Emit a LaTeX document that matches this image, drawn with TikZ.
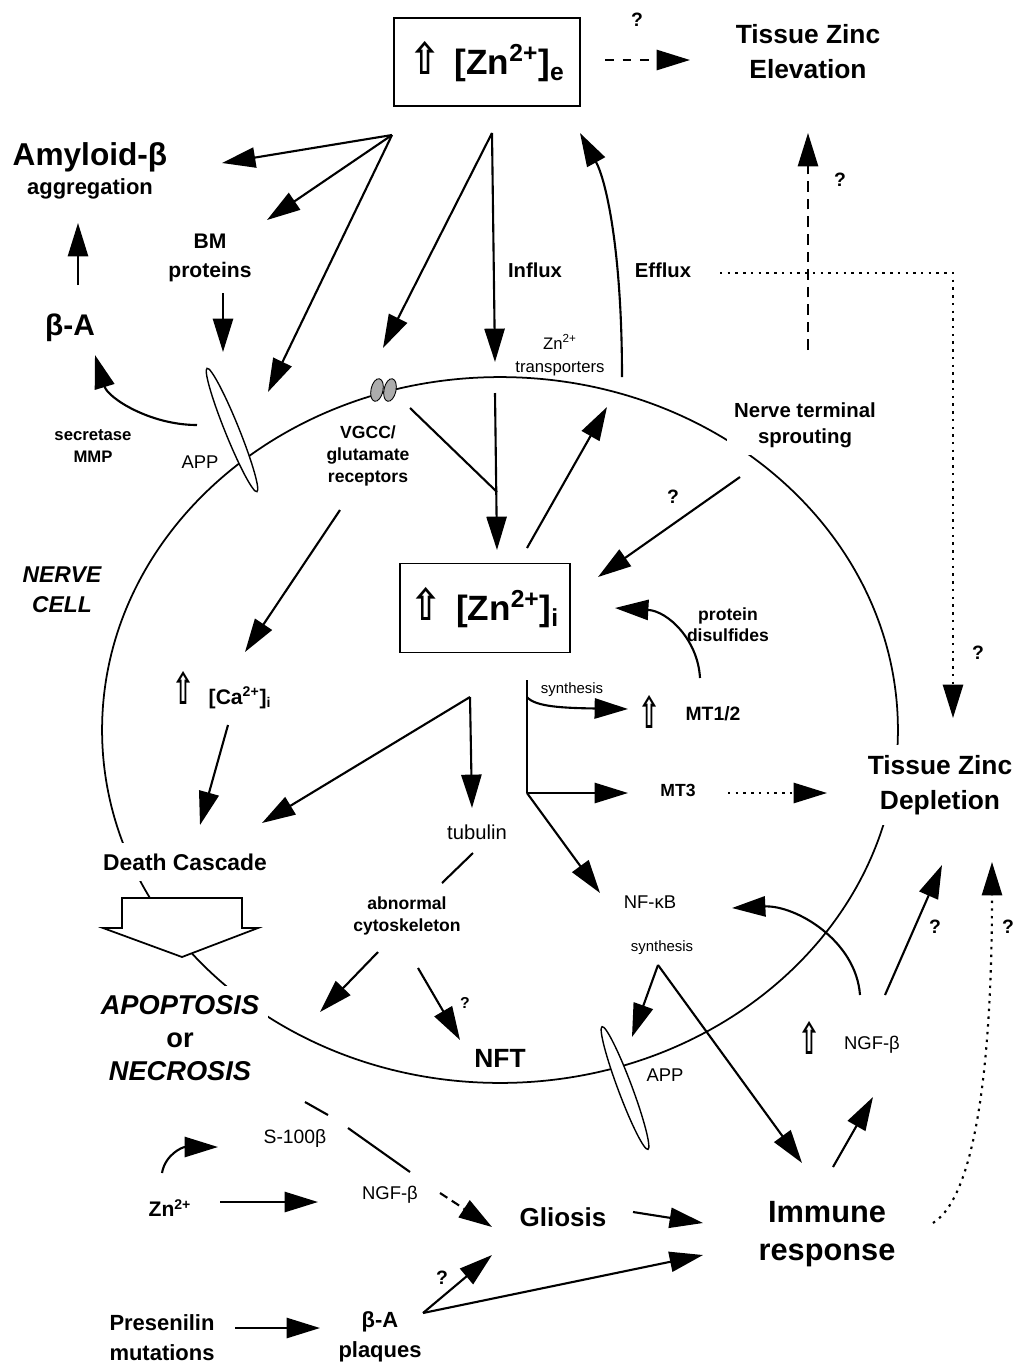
\documentclass[tikz,border=0pt]{standalone}
\usepackage{fontspec}
\usepackage{graphicx}
\setmainfont{Liberation Sans}
\newfontfamily\symfont{DejaVu Sans}
\usetikzlibrary{arrows.meta,shapes.geometric}

\newcommand{\fsz}[2]{\fontsize{#1}{#2}\selectfont}
\newcommand{\upar}[1][0.6]{\scalebox{#1}[1]{\symfont\bfseries\fsz{25}{25}⇧}}

\begin{document}
\begin{tikzpicture}[x=0.02cm,y=-0.02cm,
  every node/.style={inner sep=1pt,align=center},
  arr/.style={line width=1.2pt,-{Triangle[length=19pt,width=11.5pt]}},
  conn/.style={line width=1.2pt},
  dots/.style={dash pattern=on 1.4pt off 3pt},
  zbox/.style={draw,line width=1pt,minimum height=1.76cm,font=\fsz{20}{22}\bfseries},
  head/.style={font=\fsz{15}{20}\bfseries},
  lab/.style={font=\fsz{12}{16.5}\bfseries},
  smallbf/.style={font=\fsz{10}{12.5}\bfseries},
  txt/.style={font=\fsz{10.5}{12.5}},
  tinytxt/.style={font=\fsz{8.5}{10}},
  qm/.style={font=\fsz{11}{13}\bfseries},
  mask/.style={fill=white},
  lens/.style={draw,ellipse,fill=white,line width=0.8pt,inner sep=0pt,minimum height=0.28cm},
  chan/.style={draw,ellipse,fill=gray!65,line width=0.5pt,inner sep=0pt,minimum width=0.24cm,minimum height=0.46cm}]

\useasboundingbox (0,0) rectangle (1017,1363);

% cell membrane
\draw[line width=1pt] (500,730) ellipse [x radius=7.96cm,y radius=7.06cm];
\node[lens,minimum width=2.66cm,rotate=-68] (appU) at (232,430) {};
\node[lens,minimum width=2.62cm,rotate=-69.5] (appL) at (625,1088) {};
\node[chan,rotate=-12] (vgcc1) at (377,390) {};
\node[chan,rotate=-12] (vgcc2) at (390,390) {};
\draw[line width=1pt,fill=white] (122,898) -- (242,898) -- (242,928) -- (258,928)
  -- (182,957) -- (103,928) -- (122,928) -- cycle;

% labels
\node[zbox,minimum width=3.72cm] (zne) at (487,62) {\upar[0.85]\hspace{8pt}[Zn\textsuperscript{2+}]\textsubscript{e}};
\node[qm] (q1) at (637,20) {?};
\node[head] (elev) at (808,52) {Tissue Zinc\\Elevation};
\node[font=\fsz{18}{20}\bfseries] (amy) at (90,157) {Amyloid-β};
\node[font=\fsz{12.5}{14}\bfseries] (aggr) at (90,189) {aggregation};
\node[font=\fsz{17}{20}\bfseries] (ba) at (70,328) {β-A};
\node[lab] (bm) at (210,258) {BM\\proteins};
\node[font=\fsz{9.5}{13}\bfseries] (secr) at (93,446) {secretase\\MMP};
\node[txt] (appUl) at (200,462) {APP};
\node[font=\fsz{11.5}{13}\bfseries] (influx) at (535,270) {Influx};
\node[font=\fsz{11.5}{13}\bfseries] (efflux) at (663,270) {Efflux};
\node[font=\fsz{9.5}{13}] (trans) at (560,355) {Zn\textsuperscript{2+}\\transporters};
\node[qm] (q2) at (840,180) {?};
\node[font=\fsz{11.6}{15}\bfseries,mask,inner sep=4pt] (nts) at (805,425) {Nerve terminal\\sprouting};
\node[smallbf] (vgccl) at (368,456) {VGCC/\\glutamate\\receptors};
\node[font=\fsz{13}{17}\bfseries\itshape] (nerve) at (62,590) {NERVE\\CELL};
\node[zbox,minimum width=3.4cm,minimum height=1.78cm] (zni) at (485,608) {\upar[0.85]\hspace{8pt}[Zn\textsuperscript{2+}]\textsubscript{i}};
\node[qm] (q3) at (673,497) {?};
\node[font=\fsz{10}{12}\bfseries] (pdis) at (728,625) {protein\\disulfides};
\node[font=\fsz{12}{14}\bfseries] (ca) at (222,690) {\upar\hspace{8pt}[Ca\textsuperscript{2+}]\textsubscript{i}};
\node[tinytxt] (synth1) at (572,690) {synthesis};
\node (mtup) at (650,712) {\upar};
\node[font=\fsz{11}{13}\bfseries] (mt12) at (713,714) {MT1/2};
\node[smallbf] (mt3) at (678,790) {MT3};
\node[head,mask,inner sep=6pt] (depl) at (940,785) {Tissue Zinc\\Depletion};
\node[qm] (q4) at (978,653) {?};
\node[font=\fsz{11.5}{13}] (tub) at (477,832) {tubulin};
\node[font=\fsz{13}{15}\bfseries,mask,inner xsep=3pt,inner ysep=6pt] (death) at (185,862) {Death Cascade};
\node[smallbf] (abn) at (407,916) {abnormal\\cytoskeleton};
\node[font=\fsz{15.5}{19}\bfseries,mask,inner sep=5pt] (apop) at (180,1038) {{\itshape APOPTOSIS}\\or\\{\itshape NECROSIS}};
\node[font=\fsz{9}{11}\bfseries] (q5) at (465,1003) {?};
\node[head] (nft) at (500,1058) {NFT};
\node[txt] (nfkb) at (650,902) {NF-κB};
\node[tinytxt] (synth2) at (662,948) {synthesis};
\node[txt] (appLl) at (665,1075) {APP};
\node (ngfup) at (810,1038) {\upar};
\node[txt] (ngfR) at (872,1045) {NGF-β};
\node[qm] (q6) at (935,927) {?};
\node[qm] (q7) at (1008,927) {?};
\node[font=\fsz{11}{13}] (s100) at (295,1138) {S-100β};
\node[txt] (ngfL) at (390,1195) {NGF-β};
\node[font=\fsz{12}{14}\bfseries] (znL) at (170,1208) {Zn\textsuperscript{2+}};
\node[font=\fsz{14.8}{17}\bfseries] (glio) at (563,1217) {Gliosis};
\node[font=\fsz{17.5}{22}\bfseries] (imm) at (827,1234) {Immune\\response};
\node[font=\fsz{12.5}{17}\bfseries] (pres) at (162,1338) {Presenilin\\mutations};
\node[font=\fsz{12.5}{17}\bfseries] (plaq) at (380,1337) {β-A\\plaques};
\node[qm] (q8) at (442,1278) {?};

% connector ends
\coordinate (fanL) at (392,135);
\coordinate (fanR) at (492,133);
\coordinate (amyE) at (222,163);
\coordinate (bmE) at (267,220);
\coordinate (appT) at (268,392);
\coordinate (vgccT) at (383,348);
\coordinate (inflE) at (495,362);
\coordinate (zneR) at (605,60);
\coordinate (elevL) at (690,60);
\coordinate (effS) at (622,377);
\coordinate (effE) at (580,133);
\coordinate (ntsU) at (808,350);
\coordinate (elevD) at (808,133);
\coordinate (efflR) at (720,273);
\coordinate (corner) at (953,273);
\coordinate (deplT) at (953,718);
\coordinate (baU) at (78,285);
\coordinate (aggrD) at (78,223);
\coordinate (bmD) at (223,293);
\coordinate (appBM) at (223,352);
\coordinate (appC) at (197,425);
\coordinate (baD) at (95,355);
\coordinate (vgccR) at (410,408);
\coordinate (jn) at (497,492);
\coordinate (memTop) at (495,393);
\coordinate (zniT) at (497,550);
\coordinate (zniTR) at (527,548);
\coordinate (transB) at (607,407);
\coordinate (ntsD) at (740,477);
\coordinate (zniR) at (598,577);
\coordinate (mtTop) at (700,678);
\coordinate (zniR2) at (615,608);
\coordinate (vgccD) at (340,510);
\coordinate (caT) at (245,652);
\coordinate (caD) at (228,725);
\coordinate (deathT) at (200,825);
\coordinate (fanD) at (470,697);
\coordinate (tubT) at (472,808);
\coordinate (deathR) at (262,823);
\coordinate (stemT) at (527,680);
\coordinate (stem1) at (527,697);
\coordinate (stemB) at (527,793);
\coordinate (mt12W) at (628,709);
\coordinate (mt3W) at (628,793);
\coordinate (nfkbT) at (600,893);
\coordinate (mt3E) at (728,793);
\coordinate (deplW) at (827,793);
\coordinate (tubD) at (473,853);
\coordinate (abnT) at (442,883);
\coordinate (abnL) at (378,952);
\coordinate (apopR) at (320,1012);
\coordinate (abnD) at (418,968);
\coordinate (nftT) at (460,1040);
\coordinate (synA) at (658,965);
\coordinate (appLT) at (632,1037);
\coordinate (immT) at (802,1163);
\coordinate (ngfT) at (860,995);
\coordinate (nfkbE) at (732,908);
\coordinate (ngfTR) at (885,995);
\coordinate (deplB) at (942,865);
\coordinate (immTR) at (833,1167);
\coordinate (ngfB) at (873,1097);
\coordinate (immE) at (933,1223);
\coordinate (deplB2) at (992,862);
\coordinate (glioE) at (633,1212);
\coordinate (immW) at (703,1223);
\coordinate (plaqA) at (423,1313);
\coordinate (immW2) at (703,1255);
\coordinate (glioB) at (492,1255);
\coordinate (presE) at (235,1328);
\coordinate (plaqW) at (320,1328);
\coordinate (znE) at (220,1202);
\coordinate (ngfLW) at (318,1202);
\coordinate (znT) at (162,1173);
\coordinate (s100W) at (218,1147);
\coordinate (apopB) at (305,1102);
\coordinate (s100a) at (328,1115);
\coordinate (s100b) at (348,1128);
\coordinate (ngfLT) at (410,1172);
\coordinate (ngfLE) at (440,1193);
\coordinate (glioW) at (492,1227);

% outside the cell
\draw[arr] (fanL) -- (amyE);
\draw[arr] (fanL) -- (bmE);
\draw[arr] (fanL) -- (appT);
\draw[arr] (fanR) -- (vgccT);
\draw[arr] (fanR) -- (inflE);
\draw[arr,dash pattern=on 5pt off 5pt] (zneR) -- (elevL);
\draw[arr] (effS) .. controls (622,250) and (606,180) .. (effE);
\draw[arr,dash pattern=on 6pt off 4pt] (ntsU) -- (elevD);
\draw[arr,dots] (efflR) -- (corner) -- (deplT);
\draw[arr] (baU) -- (aggrD);
\draw[arr] (bmD) -- (appBM);
\draw[arr] (appC) .. controls (150,425) and (108,398) .. (baD);
% inside the cell
\draw[conn] (vgccR) -- (jn);
\draw[arr] (memTop) -- (zniT);
\draw[arr] (zniTR) -- (transB);
\draw[arr] (ntsD) -- (zniR);
\draw[arr] (mtTop) .. controls (698,640) and (668,611) .. (zniR2);
\draw[arr] (vgccD) -- (caT);
\draw[arr] (caD) -- (deathT);
\draw[arr] (fanD) -- (tubT);
\draw[arr] (fanD) -- (deathR);
\draw[conn] (stemT) -- (stemB);
\draw[arr] (stem1) .. controls (535,707) and (565,708) .. (mt12W);
\draw[arr] (stemB) -- (mt3W);
\draw[arr] (stemB) -- (nfkbT);
\draw[arr,dots] (mt3E) -- (deplW);
\draw[conn] (tubD) -- (abnT);
\draw[arr] (abnL) -- (apopR);
\draw[arr] (abnD) -- (nftT);
\draw[arr] (synA) -- (appLT);
\draw[arr] (synA) -- (immT);
\draw[arr] (ngfT) .. controls (856,940) and (795,905) .. (nfkbE);
\draw[arr] (ngfTR) -- (deplB);
\draw[arr] (immTR) -- (ngfB);
\draw[arr,dots] (immE) .. controls (978,1195) and (992,1050) .. (deplB2);
% lower part
\draw[arr] (glioE) -- (immW);
\draw[arr] (plaqA) -- (immW2);
\draw[arr] (plaqA) -- (glioB);
\draw[arr] (presE) -- (plaqW);
\draw[arr] (znE) -- (ngfLW);
\draw[arr] (znT) .. controls (165,1155) and (182,1147) .. (s100W);
\draw[conn] (apopB) -- (s100a);
\draw[conn] (s100b) -- (ngfLT);
\draw[arr,dash pattern=on 5pt off 3pt] (ngfLE) -- (glioW);
\end{tikzpicture}
\end{document}
